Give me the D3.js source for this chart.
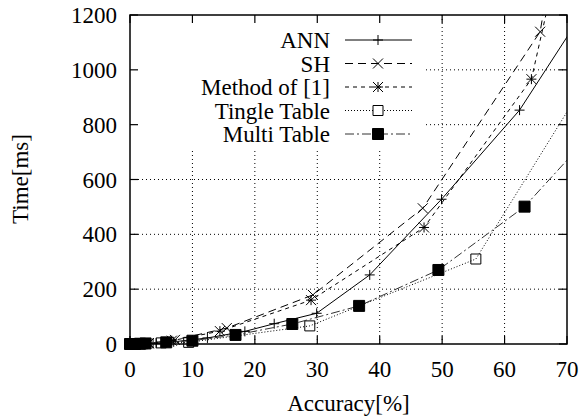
<!DOCTYPE html>
<html>
<head>
<meta charset="utf-8">
<script src="https://cdn.jsdelivr.net/npm/d3@7"></script>
<style>
  body { margin: 0; background: #fff; }
  svg { display: block; }
</style>
</head>
<body>
<svg width="581" height="419"></svg>
<script>
// series names, in legend order
var seriesNames = ["ANN", "SH", "Method of [1]", "Tingle Table", "Multi Table"];

// [accuracy %, time ms] (last point of each lies past the right edge)
var annData    = [[0,0],[1,0],[2,1],[3.7,2],[4.2,3],[7,8],[12.4,22],[18.4,46],[23.1,74],[29.9,112],[38.4,252],[49.9,528],[62.4,853],[72,1190]];
var shData     = [[0,0],[1,1],[3,3],[7.2,15],[15.5,58],[29.3,179],[46.9,495],[65.7,1139],[68,1450]];
var methodData = [[0,0],[1,1],[3,3],[6.7,12],[14.4,47],[29,160],[47.1,425],[64.3,966],[68,1340]];
var tingleData = [[0.5,0],[2,1],[5,4],[9.4,6],[28.8,66],[55.4,310],[75,1030]];
var multiData  = [[0,0],[0.8,0],[1.6,1],[2.5,2],[5.8,6],[10,12],[16.9,33],[26,73],[36.7,139],[49.4,270],[63.2,501],[74,770]];

var xTicks = [0,10,20,30,40,50,60,70];
var yTicks = [0,200,400,600,800,1000,1200];

var margin = {left:130, top:15, right:14, bottom:75};
var width = 581 - margin.left - margin.right;
var height = 419 - margin.top - margin.bottom;
var fontSize = "23px";

var series = [
    {name:seriesNames[0], values:annData,    dash:null,      mark:"plus"},
    {name:seriesNames[1], values:shData,     dash:"8,5",     mark:"cross"},
    {name:seriesNames[2], values:methodData, dash:"4,4",     mark:"star"},
    {name:seriesNames[3], values:tingleData, dash:"1,2",     mark:"box"},
    {name:seriesNames[4], values:multiData,  dash:"9,3,2,3", mark:"fbox"}
];

var x = d3.scaleLinear().domain([0,70]).range([0,width]);
var y = d3.scaleLinear().domain([0,1200]).range([height,0]);

var svg = d3.select("svg")
    .attr("font-family","'Liberation Serif', 'Times New Roman', Times, 'DejaVu Serif', serif");
var g = svg.append("g")
    .attr("transform", "translate(" + margin.left + "," + margin.top + ")");

svg.append("defs").append("clipPath").attr("id","plotClip")
    .append("rect").attr("width",width).attr("height",height);

//grid
g.selectAll("line.vgrid")
    .data(xTicks.slice(1,-1))
    .enter().append("line")
    .attr("class","vgrid")
    .attr("x1",function(d){return x(d);}).attr("x2",function(d){return x(d);})
    .attr("y1",0).attr("y2",height)
    .attr("stroke","#000").attr("stroke-width",1).attr("stroke-dasharray","1,3");

g.selectAll("line.hgrid")
    .data(yTicks.slice(1,-1))
    .enter().append("line")
    .attr("class","hgrid")
    .attr("x1",0).attr("x2",width)
    .attr("y1",function(d){return y(d);}).attr("y2",function(d){return y(d);})
    .attr("stroke","#000").attr("stroke-width",1).attr("stroke-dasharray","1,3");

//key box hides the grid behind it
var keyW = 296, keyH = 133;
g.append("rect").attr("x",0).attr("y",0).attr("width",keyW).attr("height",keyH).attr("fill","#fff");

function markerPath(type, s)
{
    var p = d3.path();
    if (type == "plus" || type == "star") {
        p.moveTo(-s,0); p.lineTo(s,0);
        p.moveTo(0,-s); p.lineTo(0,s);
    }
    if (type == "cross" || type == "star") {
        p.moveTo(-s,-s); p.lineTo(s,s);
        p.moveTo(-s,s); p.lineTo(s,-s);
    }
    if (type == "box" || type == "fbox") {
        p.rect(-s,-s,2*s,2*s);
    }
    return p.toString();
}

var line = d3.line()
    .x(function(d){return x(d[0]);})
    .y(function(d){return y(d[1]);});

var gSeries = g.selectAll("g.series")
    .data(series)
    .enter().append("g")
    .attr("class","series");

gSeries.append("path")
    .attr("clip-path","url(#plotClip)")
    .attr("d",function(d){return line(d.values);})
    .attr("fill","none")
    .attr("stroke",function(d){return d.mark=="fbox" ? "#333" : "#000";})
    .attr("stroke-width",1)
    .attr("stroke-dasharray",function(d){return d.dash;});

gSeries.each(function(s){
    d3.select(this).selectAll("path.mark")
        .data(s.values.filter(function(d){return d[0] <= 70 && d[1] <= 1200;}))
        .enter().append("path")
        .attr("class","mark")
        .attr("transform",function(d){return "translate(" + x(d[0]) + "," + y(d[1]) + ")";})
        .attr("d",markerPath(s.mark, s.mark=="fbox" ? 5.5 : 5))
        .attr("fill",s.mark=="fbox" ? "#000" : "none")
        .attr("stroke","#000")
        .attr("stroke-width",1);
});

//legend
var keyRows = g.selectAll("g.key")
    .data(series)
    .enter().append("g")
    .attr("class","key")
    .attr("transform",function(d,i){return "translate(0," + (25 + 23.5*i) + ")";});

keyRows.append("text")
    .attr("x",200)
    .attr("dy","0.35em")
    .attr("text-anchor","end")
    .style("font-size",fontSize)
    .text(function(d){return d.name;});

keyRows.append("line")
    .attr("x1",215).attr("x2",282)
    .attr("stroke",function(d){return d.mark=="fbox" ? "#333" : "#000";})
    .attr("stroke-width",1)
    .attr("stroke-dasharray",function(d){return d.dash;});

keyRows.append("path")
    .attr("transform","translate(248,0)")
    .attr("d",function(d){return markerPath(d.mark, d.mark=="fbox" ? 5.5 : 5);})
    .attr("fill",function(d){return d.mark=="fbox" ? "#000" : "#fff";})
    .attr("stroke","#000");

//frame and inward ticks on all sides
g.append("rect").attr("width",width).attr("height",height)
    .attr("fill","none").attr("stroke","#000").attr("stroke-width",1.5);

var tickLen = 8;
xTicks.forEach(function(t){
    g.append("line").attr("x1",x(t)).attr("x2",x(t)).attr("y1",height).attr("y2",height-tickLen)
        .attr("stroke","#000").attr("stroke-width",1.2);
    g.append("line").attr("x1",x(t)).attr("x2",x(t)).attr("y1",0).attr("y2",tickLen)
        .attr("stroke","#000").attr("stroke-width",1.2);
});
yTicks.forEach(function(t){
    g.append("line").attr("x1",0).attr("x2",tickLen).attr("y1",y(t)).attr("y2",y(t))
        .attr("stroke","#000").attr("stroke-width",1.2);
    g.append("line").attr("x1",width).attr("x2",width-tickLen).attr("y1",y(t)).attr("y2",y(t))
        .attr("stroke","#000").attr("stroke-width",1.2);
});

//tick labels
g.selectAll("text.xlab")
    .data(xTicks)
    .enter().append("text")
    .attr("class","xlab")
    .attr("x",function(d){return x(d);})
    .attr("y",height+33)
    .attr("text-anchor","middle")
    .style("font-size",fontSize)
    .text(function(d){return d;});

g.selectAll("text.ylab")
    .data(yTicks)
    .enter().append("text")
    .attr("class","ylab")
    .attr("x",-13)
    .attr("y",function(d){return y(d);})
    .attr("dy","0.35em")
    .attr("text-anchor","end")
    .style("font-size",fontSize)
    .text(function(d){return d;});

//axis titles
g.append("text")
    .attr("x",width/2)
    .attr("y",height+67)
    .attr("text-anchor","middle")
    .style("font-size",fontSize)
    .text("Accuracy[%]");

svg.append("text")
    .attr("transform","translate(28,179) rotate(-90)")
    .attr("text-anchor","middle")
    .style("font-size",fontSize)
    .text("Time[ms]");
</script>
</body>
</html>
